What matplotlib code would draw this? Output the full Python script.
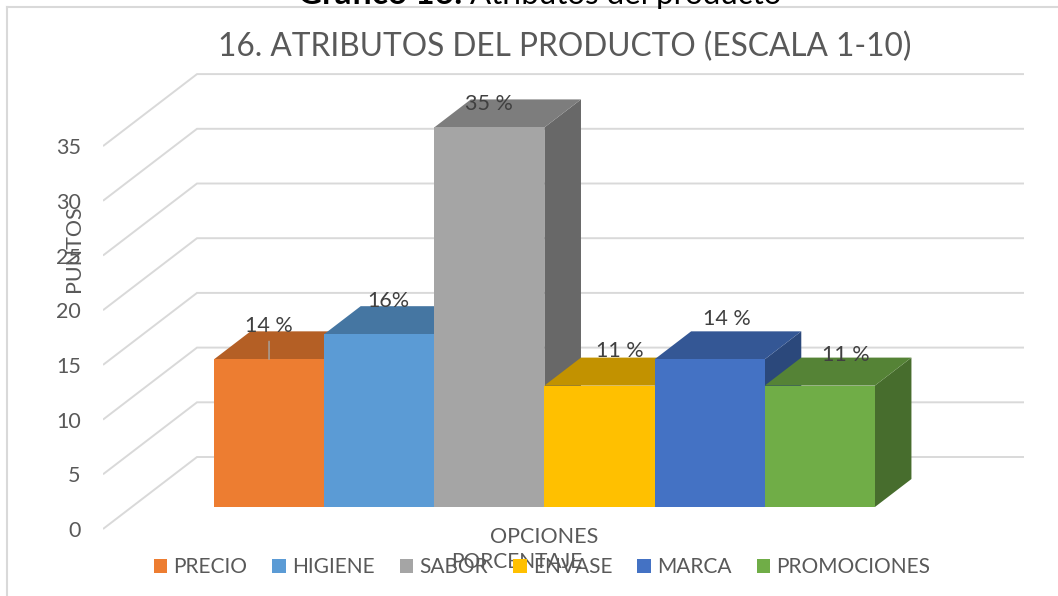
import matplotlib
matplotlib.use("Agg")
import matplotlib.pyplot as plt
from matplotlib.patches import Polygon, Patch
from matplotlib.lines import Line2D
from matplotlib.colors import to_rgb

# ---------- data ----------
categories = ["PRECIO", "HIGIENE", "SABOR", "ENVASE", "MARCA", "PROMOCIONES"]
values = [13.5, 15.8, 34.7, 11.1, 13.5, 11.1]
value_labels = ["14 %", "16%", "35 %", "11 %", "14 %", "11 %"]
y_ticks = [0, 5, 10, 15, 20, 25, 30, 35]
front_colors = ["#ED7D31", "#5B9BD5", "#A5A5A5", "#FFC000", "#4472C4", "#70AD47"]

# ---------- style / layout ----------
W, H = 1058, 596
plt.rcParams["font.family"] = ["Lato", "DejaVu Sans"]
TXT = "#595959"
LBL = "#404040"
GRID = "#D9D9D9"
PX_PER_UNIT = 10.94      # vertical pixels for one value unit
CAT_W = 110.15           # horizontal pixels for one category
ZERO_PY = 529            # pixel row of value 0 at the front of the floor
AX_LEFT = 103
CAT0_PX = 185.3          # pixel column of category edge 0 on the front plane
DEPTH_DX = 94 / CAT_W    # full depth in category units
DEPTH_DY = 72 / PX_PER_UNIT  # full depth in value units
BAR_D0, BAR_D1 = 0.305, 0.694
LABEL_OFFSETS = [(0, 33), (9, 33), (0, 23), (20, 35), (17, 40), (26, 31)]

fig = plt.figure(figsize=(W / 100, H / 100), dpi=100)
fig.patch.set_facecolor("white")
ax = fig.add_axes([AX_LEFT / W, 0, 1 - AX_LEFT / W, 1])
ax.set_xlim((AX_LEFT - CAT0_PX) / CAT_W, (W - CAT0_PX) / CAT_W)
ax.set_ylim(-(H - ZERO_PY) / PX_PER_UNIT, ZERO_PY / PX_PER_UNIT)
ax.patch.set_alpha(0)
for s in ax.spines.values():
    s.set_visible(False)


def proj(x, v, d):
    """Oblique projection of category position, value and depth."""
    return x + d * DEPTH_DX, v + d * DEPTH_DY


def shade(color, factor):
    return tuple(c * factor for c in to_rgb(color))


# chart frame
fig.add_artist(Line2D([7 / W, 7 / W], [0, 1 - 7 / H], color=GRID, lw=1.5))
fig.add_artist(Line2D([7 / W, 1], [1 - 7 / H, 1 - 7 / H], color=GRID, lw=1.5))

# walls
x_left, x_right = (AX_LEFT - CAT0_PX) / CAT_W, (930 - CAT0_PX) / CAT_W
for v in y_ticks:
    a, b, c = proj(x_left, v, 0), proj(x_left, v, 1), proj(x_right, v, 1)
    ax.plot([a[0], b[0], c[0]], [a[1], b[1], c[1]], color=GRID, lw=1.4, zorder=1,
            solid_joinstyle="miter", solid_capstyle="butt")

# bars, painted left to right
for i, (v, col) in enumerate(zip(values, front_colors)):
    z = 2 + i * 0.1
    side = [proj(i + 1, 0, BAR_D0), proj(i + 1, 0, BAR_D1),
            proj(i + 1, v, BAR_D1), proj(i + 1, v, BAR_D0)]
    top = [proj(i, v, BAR_D0), proj(i + 1, v, BAR_D0),
           proj(i + 1, v, BAR_D1), proj(i, v, BAR_D1)]
    front = [proj(i, 0, BAR_D0), proj(i + 1, 0, BAR_D0),
             proj(i + 1, v, BAR_D0), proj(i, v, BAR_D0)]
    ax.add_patch(Polygon(side, closed=True, fc=shade(col, 0.63), ec="none", zorder=z))
    ax.add_patch(Polygon(top, closed=True, fc=shade(col, 0.76), ec="none", zorder=z))
    ax.add_patch(Polygon(front, closed=True, fc=col, ec="none", zorder=z))

# data labels
for i, (v, lab, off) in enumerate(zip(values, value_labels, LABEL_OFFSETS)):
    ax.annotate(lab, xy=proj(i + 0.5, v, BAR_D0), xytext=(off[0] * 0.72, off[1] * 0.72),
                textcoords="offset points", ha="center", va="center",
                fontsize=15.5, color=LBL, zorder=5)

# leader line of the first label
ax.annotate("", xy=proj(0.5, values[0], BAR_D0), xytext=(0, 13), textcoords="offset points",
            arrowprops=dict(arrowstyle="-", color="#A6A6A6", lw=1, shrinkA=0, shrinkB=0), zorder=5)

# y axis
ax.set_xticks([])
ax.set_yticks(y_ticks)
ax.set_yticklabels([str(t) for t in y_ticks], fontsize=15.5, color=TXT)
ax.tick_params(axis="y", length=0, pad=16)

# titles and axis names
fig.text(565 / W, 1 - 47 / H, "16. ATRIBUTOS DEL PRODUCTO (ESCALA 1-10)", ha="center", va="center",
         fontsize=22.8, color=TXT)
fig.text(463 / W, 1 + 5 / H, "Gráfico 16:", ha="right", va="center",
         fontsize=24, fontweight="bold", color="black")
fig.text(470 / W, 1 + 5 / H, "Atributos del producto", ha="left", va="center",
         fontsize=22.5, color="black")
fig.text(74 / W, 1 - 249 / H, "PUNTOS", rotation=90, ha="center", va="center", fontsize=15.5, color=TXT)
fig.text(544 / W, 1 - 537 / H, "OPCIONES", ha="center", va="center", fontsize=15.5, color=TXT)
fig.text(517 / W, 1 - 562 / H, "PORCENTAJE", ha="center", va="center", fontsize=15, color=TXT)

# legend
handles = [Patch(fc=c, ec="none") for c in front_colors]
fig.legend(handles, categories, ncol=6, loc="center", bbox_to_anchor=(542 / W, 1 - 567 / H),
           frameon=False, fontsize=15, labelcolor=TXT, handlelength=0.65, handleheight=0.65,
           handletextpad=0.3, columnspacing=1.2, borderpad=0, borderaxespad=0)

fig.savefig("out.png", dpi=100)
